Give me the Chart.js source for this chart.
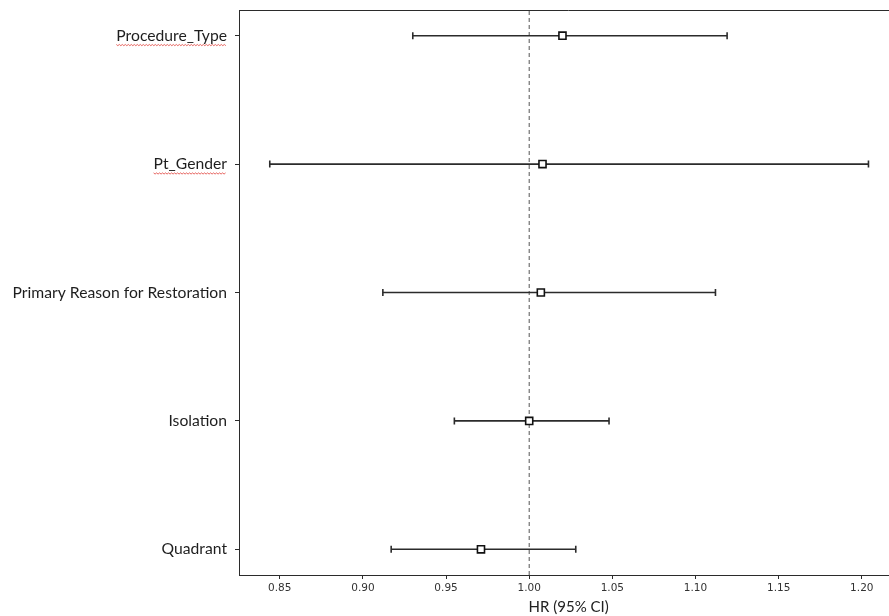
<!DOCTYPE html>
<html>
<head>
<meta charset="utf-8">
<script src="https://cdn.jsdelivr.net/npm/chart.js@4.4.1/dist/chart.umd.min.js"></script>
<style>
  html, body { margin:0; padding:0; background:#fff; overflow:hidden; }
  #wrap { width:905px; height:616px; }
</style>
</head>
<body>
<div id="wrap"><canvas id="forest" width="905" height="616"></canvas></div>
<script>
// --------------------
// DATA (bottom row first)
// --------------------
const categories = ['Quadrant', 'Isolation', 'Primary Reason for Restoration', 'Pt_Gender', 'Procedure_Type'];
const hr    = [0.971, 1.000, 1.007, 1.008, 1.020];
const lower = [0.917, 0.955, 0.912, 0.844, 0.930];
const upper = [1.028, 1.048, 1.112, 1.204, 1.119];
const xTicks = [0.85, 0.90, 0.95, 1.00, 1.05, 1.10, 1.15, 1.20];
const refValue = 1.0;
const squiggly = ['Procedure_Type', 'Pt_Gender']; // spell-check marks seen in the original

const yMin = -0.2, yMax = 4.2;
const ink = '#2b2b2b';

// --------------------
// DATASETS
// --------------------
const ciSets = categories.map((c, i) => ({
  label: c,
  data: [{x: lower[i], y: i}, {x: upper[i], y: i}],
  showLine: true,
  borderColor: ink,
  borderWidth: 1.6,
  pointStyle: 'line',
  rotation: 90,
  pointRadius: 3.5,
  pointBorderWidth: 1.6,
  pointBorderColor: ink,
  order: 1
}));

const pointSet = {
  label: 'HR',
  data: hr.map((v, i) => ({x: v, y: i})),
  pointStyle: 'rect',
  pointRadius: 5,
  pointBackgroundColor: '#fff',
  pointBorderColor: '#111',
  pointBorderWidth: 1.6,
  order: 0
};

const refSet = {
  label: 'ref',
  data: [{x: refValue, y: yMin}, {x: refValue, y: yMax}],
  showLine: true,
  borderColor: '#555',
  borderWidth: 1,
  borderDash: [4, 3],
  pointRadius: 0,
  order: 2
};

// top spine + red spell-check squiggles
const extras = {
  id: 'extras',
  afterDraw(chart){
    const ctx = chart.ctx, a = chart.chartArea;
    ctx.save();
    ctx.strokeStyle = ink; ctx.lineWidth = 1;
    ctx.beginPath(); ctx.moveTo(a.left, a.top + 0.5); ctx.lineTo(a.right, a.top + 0.5); ctx.stroke();
    const ys = chart.scales.y;
    const f = ys.options.ticks.font;
    ctx.font = f.size + 'px ' + f.family;
    const xr = ys.right - ys.options.grid.tickLength - ys.options.ticks.padding;
    categories.forEach((c, i) => {
      if (!squiggly.includes(c)) return;
      const w = ctx.measureText(c).width;
      const y0 = ys.getPixelForValue(i) + 9;
      ctx.strokeStyle = '#e0403a'; ctx.lineWidth = 0.8;
      ctx.beginPath();
      for (let x = xr - w, k = 0; x <= xr; x += 1.5, k++) {
        const yy = y0 + (k % 2 ? 1 : -0.2);
        if (k === 0) ctx.moveTo(x, yy); else ctx.lineTo(x, yy);
      }
      ctx.stroke();
    });
    ctx.restore();
  }
};

// --------------------
// CHART
// --------------------
new Chart(document.getElementById('forest').getContext('2d'), {
  type: 'scatter',
  data: { datasets: [...ciSets, pointSet, refSet] },
  options: {
    responsive: false,
    animation: false,
    layout: { padding: { top: 10, right: 4, left: 0, bottom: 0 } },
    plugins: { legend: { display: false }, tooltip: { enabled: false } },
    scales: {
      x: {
        type: 'linear',
        min: 0.8255,
        max: 1.222,
        afterBuildTicks: s => { s.ticks = xTicks.map(v => ({value: v})); },
        afterFit: s => { s.height = 41; s.paddingLeft = 0; s.paddingRight = 0; },
        ticks: {
          callback: v => Number(v).toFixed(2),
          font: { family: 'DejaVu Sans', size: 10.5 },
          color: '#333',
          padding: 3,
          maxRotation: 0
        },
        grid: { display: true, drawOnChartArea: false, drawTicks: true, tickLength: 4, color: ink },
        border: { display: true, color: ink, width: 1 },
        title: {
          display: true,
          text: 'HR (95% CI)',
          font: { family: 'Lato', size: 15 },
          color: '#222',
          padding: { top: 0, bottom: 0 }
        }
      },
      y: {
        type: 'linear',
        min: yMin,
        max: yMax,
        afterBuildTicks: s => { s.ticks = categories.map((c, i) => ({value: i})); },
        afterFit: s => { s.width = 239; s.paddingTop = 0; s.paddingBottom = 0; },
        ticks: {
          callback: v => categories[v],
          font: { family: 'Lato', size: 15.7 },
          color: '#1e1e1e',
          padding: 8
        },
        grid: { display: true, drawOnChartArea: false, drawTicks: true, tickLength: 4, color: ink },
        border: { display: true, color: ink, width: 1 }
      }
    }
  },
  plugins: [extras]
});
</script>
</body>
</html>
